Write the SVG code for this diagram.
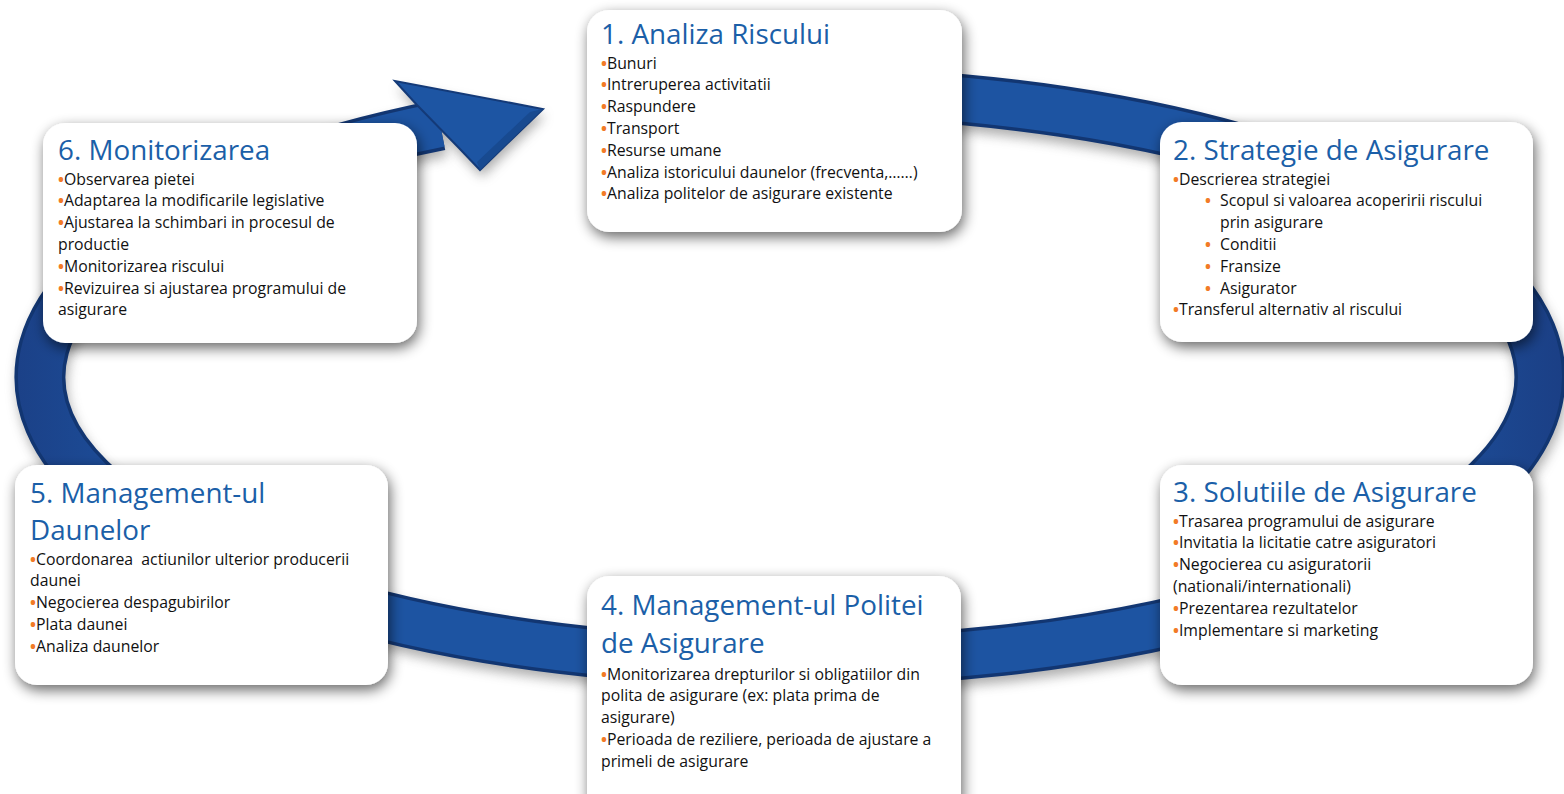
<svg xmlns="http://www.w3.org/2000/svg" width="1564" height="794" viewBox="0 0 1564 794">
<style>
.title{font-family:"Open Sans","Liberation Sans",sans-serif;font-size:27.8px;fill:#1b5fa8}
.item{font-family:"Open Sans","Liberation Sans",sans-serif;font-size:15.8px;fill:#111111}
.b{fill:#f27b25;font-weight:700}
.box{fill:#ffffff}
</style>
<defs>
<filter id="sh" x="-15%" y="-15%" width="135%" height="140%">
<feGaussianBlur in="SourceAlpha" stdDeviation="7"/>
<feOffset dx="2" dy="5"/>
<feComponentTransfer><feFuncA type="linear" slope="0.6"/></feComponentTransfer>
<feMerge><feMergeNode/><feMergeNode in="SourceGraphic"/></feMerge>
</filter>
<filter id="rsh" x="-10%" y="-20%" width="120%" height="140%">
<feGaussianBlur stdDeviation="6"/>
</filter>
<linearGradient id="rg" gradientUnits="userSpaceOnUse" x1="0" y1="0" x2="1564" y2="0">
<stop offset="0" stop-color="#1b3f85"/>
<stop offset="0.12" stop-color="#1d54a2"/>
<stop offset="0.88" stop-color="#1d54a2"/>
<stop offset="1" stop-color="#1b3f85"/>
</linearGradient>
</defs>
<rect width="1564" height="794" fill="#ffffff"/>
<g id="connectors">
<path d="M 724.6 93.1 A 750 285 0 1 1 440.2 124.9" fill="none" stroke="#6d6d6d" stroke-width="50" opacity="0.55" transform="translate(2,7)" filter="url(#rsh)"/>
<polygon points="417,105 395,81 543,109 480,170 458,147" fill="#6d6d6d" opacity="0.55" transform="translate(2,7)" filter="url(#rsh)"/>
<path d="M 724.6 93.1 A 750 285 0 1 1 440.2 124.9" fill="none" stroke="#123672" stroke-width="51"/>
<path d="M 724.6 93.1 A 750 285 0 1 1 440.2 124.9" fill="none" stroke="url(#rg)" stroke-width="44"/>
<polygon points="417,105 395,81 543,109 480,170 458,147" fill="#1d55a3" stroke="#143a78" stroke-width="2" stroke-linejoin="miter"/>
<polygon points="543,109 480,170 477,162 530,112" fill="#184a90"/>
</g>
<g id="node1">
<rect class="box" x="587" y="10" width="375" height="222" rx="22" filter="url(#sh)"/>
<text class="title" x="601" y="44">1. Analiza Riscului</text>
<text class="item" x="601" y="68.5"><tspan class="b">•</tspan>Bunuri</text>
<text class="item" x="601" y="90.3"><tspan class="b">•</tspan>Intreruperea activitatii</text>
<text class="item" x="601" y="112.1"><tspan class="b">•</tspan>Raspundere</text>
<text class="item" x="601" y="133.9"><tspan class="b">•</tspan>Transport</text>
<text class="item" x="601" y="155.7"><tspan class="b">•</tspan>Resurse umane</text>
<text class="item" x="601" y="177.5"><tspan class="b">•</tspan>Analiza istoricului daunelor (frecventa,……)</text>
<text class="item" x="601" y="199.3"><tspan class="b">•</tspan>Analiza politelor de asigurare existente</text>
</g>
<g id="node2">
<rect class="box" x="1160" y="122" width="373" height="220" rx="22" filter="url(#sh)"/>
<text class="title" x="1173" y="160">2. Strategie de Asigurare</text>
<text class="item" x="1173" y="184.5"><tspan class="b">•</tspan>Descrierea strategiei</text>
<text class="item" y="206.3"><tspan class="b" x="1205">•</tspan><tspan x="1220">Scopul si valoarea acoperirii riscului</tspan></text>
<text class="item" x="1220" y="228.1">prin asigurare</text>
<text class="item" y="249.9"><tspan class="b" x="1205">•</tspan><tspan x="1220">Conditii</tspan></text>
<text class="item" y="271.7"><tspan class="b" x="1205">•</tspan><tspan x="1220">Fransize</tspan></text>
<text class="item" y="293.5"><tspan class="b" x="1205">•</tspan><tspan x="1220">Asigurator</tspan></text>
<text class="item" x="1173" y="315.3"><tspan class="b">•</tspan>Transferul alternativ al riscului</text>
</g>
<g id="node3">
<rect class="box" x="1160" y="465" width="373" height="220" rx="22" filter="url(#sh)"/>
<text class="title" x="1173" y="502">3. Solutiile de Asigurare</text>
<text class="item" x="1173" y="526.5"><tspan class="b">•</tspan>Trasarea programului de asigurare</text>
<text class="item" x="1173" y="548.3"><tspan class="b">•</tspan>Invitatia la licitatie catre asiguratori</text>
<text class="item" x="1173" y="570.1"><tspan class="b">•</tspan>Negocierea cu asiguratorii</text>
<text class="item" x="1173" y="591.9">(nationali/internationali)</text>
<text class="item" x="1173" y="613.7"><tspan class="b">•</tspan>Prezentarea rezultatelor</text>
<text class="item" x="1173" y="635.5"><tspan class="b">•</tspan>Implementare si marketing</text>
</g>
<g id="node4">
<rect class="box" x="587" y="576" width="374" height="240" rx="22" filter="url(#sh)"/>
<text class="title" x="601" y="615">4. Management-ul Politei</text>
<text class="title" x="601" y="653">de Asigurare</text>
<text class="item" x="601" y="679.5"><tspan class="b">•</tspan>Monitorizarea drepturilor si obligatiilor din</text>
<text class="item" x="601" y="701.3">polita de asigurare (ex: plata prima de</text>
<text class="item" x="601" y="723.1">asigurare)</text>
<text class="item" x="601" y="744.9"><tspan class="b">•</tspan>Perioada de reziliere, perioada de ajustare a</text>
<text class="item" x="601" y="766.7">primeli de asigurare</text>
</g>
<g id="node5">
<rect class="box" x="15" y="465" width="373" height="220" rx="22" filter="url(#sh)"/>
<text class="title" x="30" y="503">5. Management-ul</text>
<text class="title" x="30" y="540">Daunelor</text>
<text class="item" x="30" y="564.5" style="white-space:pre"><tspan class="b">•</tspan>Coordonarea  actiunilor ulterior producerii</text>
<text class="item" x="30" y="586.3">daunei</text>
<text class="item" x="30" y="608.1"><tspan class="b">•</tspan>Negocierea despagubirilor</text>
<text class="item" x="30" y="629.9"><tspan class="b">•</tspan>Plata daunei</text>
<text class="item" x="30" y="651.7"><tspan class="b">•</tspan>Analiza daunelor</text>
</g>
<g id="node6">
<rect class="box" x="43" y="123" width="374" height="220" rx="22" filter="url(#sh)"/>
<text class="title" x="58" y="160">6. Monitorizarea</text>
<text class="item" x="58" y="184.5"><tspan class="b">•</tspan>Observarea pietei</text>
<text class="item" x="58" y="206.3"><tspan class="b">•</tspan>Adaptarea la modificarile legislative</text>
<text class="item" x="58" y="228.1"><tspan class="b">•</tspan>Ajustarea la schimbari in procesul de</text>
<text class="item" x="58" y="249.9">productie</text>
<text class="item" x="58" y="271.7"><tspan class="b">•</tspan>Monitorizarea riscului</text>
<text class="item" x="58" y="293.5"><tspan class="b">•</tspan>Revizuirea si ajustarea programului de</text>
<text class="item" x="58" y="315.3">asigurare</text>
</g>
</svg>
